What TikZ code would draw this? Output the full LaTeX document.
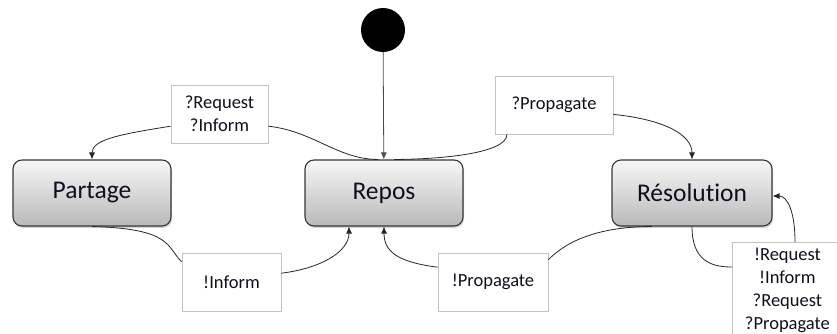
\documentclass[tikz,border=0pt]{standalone}
\usepackage{fontspec}
\setmainfont{Carlito}[Ligatures=NoCommon]
\usetikzlibrary{shadows,arrows.meta}
\definecolor{bordure}{RGB}{55,55,55}
\definecolor{cadre}{RGB}{195,195,195}
\definecolor{texte}{RGB}{15,15,30}
\begin{document}
\begin{tikzpicture}[x=1pt,y=-1pt,
  etat/.style={draw=bordure, line width=1.1pt, rounded corners=9pt,
    top color=gray!6, bottom color=gray!55, minimum width=158pt, minimum height=66pt,
    drop shadow={opacity=0.35,shadow xshift=1pt,shadow yshift=-2pt},
    font=\fontsize{25.5}{30}\selectfont, text=texte},
  lbl/.style={draw=cadre, line width=0.8pt, fill=white, align=center,
    minimum height=58pt, font=\fontsize{18.5}{23}\selectfont, text=texte},
  trans/.style={draw=black!85, line width=0.8pt},
  fleche/.style={-{Latex[length=7pt,width=6pt]}}]
  \useasboundingbox (0,0) rectangle (837,334);
  % etats
  \node[circle, fill=black, minimum size=44pt, inner sep=0pt] (debut) at (383,30) {};
  \node[etat] (partage) at (92,193) {Partage};
  \node[etat] (repos) at (384,193) {Repos};
  \node[etat, minimum width=160pt] (resolution) at (692,193) {Résolution};
  % messages
  \node[lbl, minimum width=97pt] (req) at (219.5,114) {?Request\\?Inform};
  \node[lbl, minimum width=99pt] (inf) at (231.5,282) {!Inform};
  \node[lbl, minimum width=118pt] (ppg) at (554,105) {?Propagate};
  \node[lbl, minimum width=110pt] (emis) at (493,282) {!Propagate};
  \node[lbl, anchor=north west, minimum width=110pt, minimum height=96pt, inner sep=2pt] (multi) at (732,242) {!Request\\!Inform\\?Request\\?Propagate};
  % transitions
  \draw[trans, draw=black!70, fleche] (debut) -- (repos);
  \draw[trans] ([xshift=-6pt]repos.north) .. controls +(-40,0) and +(45,5) .. (req.-14);
  \draw[trans, fleche] (req.194) .. controls +(-50,8) and +(0,-20) .. (partage.north);
  \draw[trans] ([xshift=10pt]repos.north) .. controls +(40,0) and +(0,20) .. (ppg.-148);
  \draw[trans, fleche] (ppg.-9) .. controls +(50,5) and +(0,-25) .. (resolution.north);
  \draw[trans] (partage.south) .. controls +(80,2) and +(-15,-15) .. (inf.158);
  \draw[trans, fleche] (inf.10) .. controls +(40,-5) and +(0,25) .. ([xshift=-35pt]repos.south);
  \draw[trans] ([xshift=-40pt]resolution.south) .. controls +(-60,0) and +(15,-15) .. (emis.22);
  \draw[trans, fleche] (emis.165) .. controls +(-40,-5) and +(0,25) .. (repos.south);
  \draw[trans] (resolution.south) .. controls +(0,35) and +(-20,0) .. ([yshift=-25pt]multi.north west);
  \draw[trans, fleche] ([xshift=63pt]multi.north west) .. controls +(0,-30) and +(15,0) .. ([yshift=-3pt]resolution.east);
\end{tikzpicture}
\end{document}
